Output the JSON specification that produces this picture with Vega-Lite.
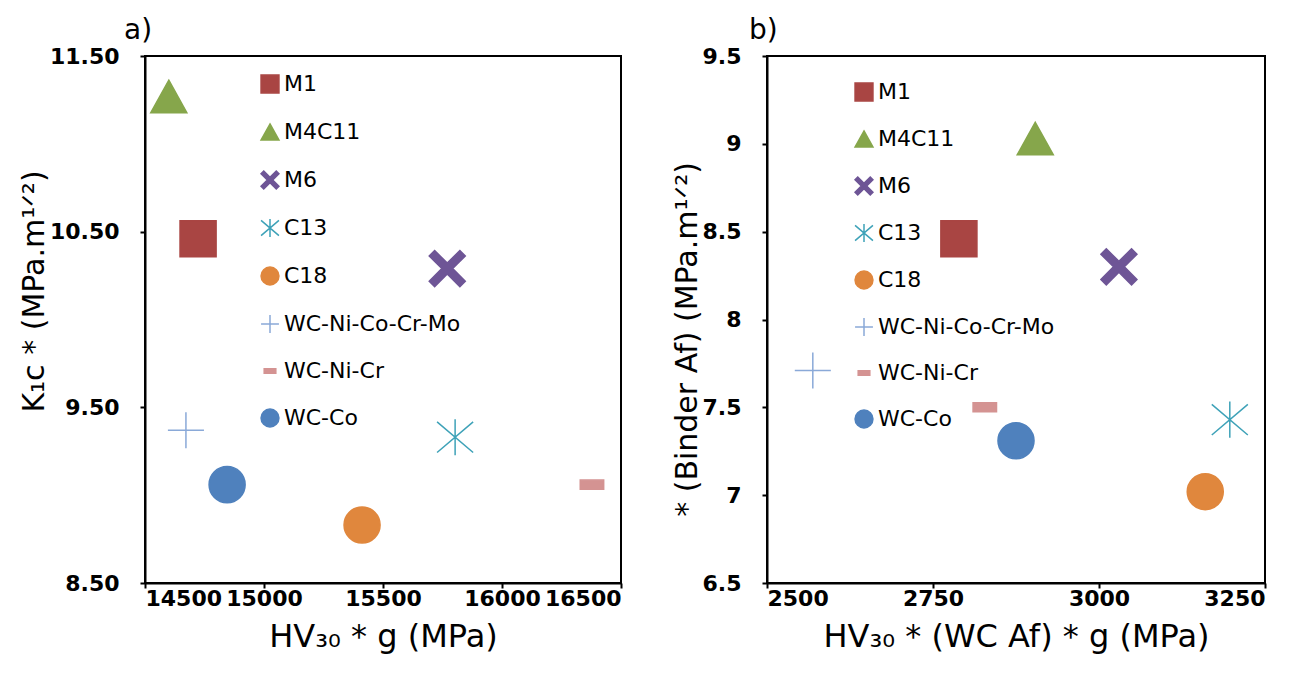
{
  "$schema": "https://vega.github.io/schema/vega-lite/v6.json",
  "background": "white",
  "padding": {"left": 18, "top": 16, "right": 6, "bottom": 5},
  "datasets": {
    "a": [
      {"series": "M1", "hv": 14723, "k": 10.46},
      {"series": "M4C11", "hv": 14600, "k": 11.27},
      {"series": "M6", "hv": 15770, "k": 10.29},
      {"series": "C13", "hv": 15803, "k": 9.33},
      {"series": "C18", "hv": 15412, "k": 8.83},
      {"series": "WC-Ni-Co-Cr-Mo", "hv": 14672, "k": 9.37},
      {"series": "WC-Ni-Cr", "hv": 16378, "k": 9.06},
      {"series": "WC-Co", "hv": 14845, "k": 9.06}
    ],
    "b": [
      {"series": "M1", "hv": 2789, "k": 8.46},
      {"series": "M4C11", "hv": 2904, "k": 9.03},
      {"series": "M6", "hv": 3030, "k": 8.30},
      {"series": "C13", "hv": 3197, "k": 7.43},
      {"series": "C18", "hv": 3160, "k": 7.02},
      {"series": "WC-Ni-Co-Cr-Mo", "hv": 2569, "k": 7.71},
      {"series": "WC-Ni-Cr", "hv": 2828, "k": 7.50},
      {"series": "WC-Co", "hv": 2875, "k": 7.31}
    ]
  },
  "config": {
    "font": "DejaVu Sans",
    "view": {"stroke": "black", "strokeWidth": 2},
    "axis": {
      "grid": false,
      "labelFont": "DejaVu Sans",
      "labelFontWeight": "bold",
      "labelFontSize": 22,
      "labelColor": "black",
      "titleFont": "DejaVu Sans",
      "titleFontWeight": "normal",
      "titleColor": "black",
      "domainColor": "black",
      "domainWidth": 2,
      "tickColor": "black",
      "tickWidth": 2,
      "tickSize": 5
    },
    "axisX": {"labelPadding": 0, "titlePadding": 12, "titleFontSize": 32},
    "axisY": {"labelPadding": 21, "titlePadding": 0, "titleFontSize": 30},
    "legend": {
      "labelFont": "DejaVu Sans",
      "labelFontSize": 22,
      "labelColor": "black",
      "symbolSize": 320,
      "symbolStrokeWidth": 1.5,
      "padding": 0,
      "labelOffset": 3,
      "labelLimit": 400
    }
  },
  "spacing": 48,
  "resolve": {
    "scale": {"fill": "independent", "stroke": "independent", "shape": "independent"},
    "legend": {"fill": "independent", "stroke": "independent", "shape": "independent"}
  },
  "hconcat": [
    {
      "width": 476,
      "height": 527,
      "title": {"text": "a)", "anchor": "start", "frame": "group", "dx": -21, "fontSize": 28, "font": "DejaVu Sans", "fontWeight": "normal", "offset": 0, "color": "black"},
      "data": {"name": "a"},
      "mark": {"type": "point", "filled": true, "strokeWidth": 1.5, "opacity": 1, "size": 1300},
      "encoding": {
        "x": {"field": "hv", "type": "quantitative", "scale": {"domain": [14500, 16500], "nice": false, "zero": false}, "axis": {"values": [14500, 15000, 15500, 16000, 16500], "format": "d", "title": "HV₃₀ * g (MPa)"}},
        "y": {"field": "k", "type": "quantitative", "scale": {"domain": [8.5, 11.5], "nice": false, "zero": false}, "axis": {"values": [8.5, 9.5, 10.5, 11.5], "format": ".2f", "title": "K₁c * (MPa.m¹ᐟ²)", "titleY": 235}},
        "fill": {"field": "series", "type": "nominal",
          "scale": {"domain": ["M1", "M4C11", "M6", "C13", "C18", "WC-Ni-Co-Cr-Mo", "WC-Ni-Cr", "WC-Co"], "range": ["#a94543", "#86a64b", "#6e5596", "#3ea2b8", "#e0873d", "#8aa9d8", "#d49392", "#4f81bd"]},
          "legend": {"orient": "none", "legendX": 114, "legendY": 17, "title": null, "rowPadding": 24}},
        "stroke": {"field": "series", "type": "nominal",
          "scale": {"domain": ["M1", "M4C11", "M6", "C13", "C18", "WC-Ni-Co-Cr-Mo", "WC-Ni-Cr", "WC-Co"], "range": ["#a94543", "#86a64b", "#6e5596", "#3ea2b8", "#e0873d", "#8aa9d8", "#d49392", "#4f81bd"]},
          "legend": {"orient": "none", "legendX": 114, "legendY": 17, "title": null, "rowPadding": 24}},
        "shape": {"field": "series", "type": "nominal",
          "scale": {"domain": ["M1", "M4C11", "M6", "C13", "C18", "WC-Ni-Co-Cr-Mo", "WC-Ni-Cr", "WC-Co"], "range": ["square", "M0,-0.9L1,0.9L-1,0.9Z", "M-0.7,-1L0,-0.3L0.7,-1L1,-0.7L0.3,0L1,0.7L0.7,1L0,0.3L-0.7,1L-1,0.7L-0.3,0L-1,-0.7Z", "M0,-1V1M-1,-0.85L1,0.85M-1,0.85L1,-0.85", "circle", "M-1,0H1M0,-1V1", "M-0.65,-0.25H0.65V0.25H-0.65Z", "circle"]},
          "legend": {"orient": "none", "legendX": 114, "legendY": 17, "title": null, "rowPadding": 24}}
      }
    },
    {
      "width": 498,
      "height": 527,
      "title": {"text": "b)", "anchor": "start", "frame": "group", "dx": -18, "fontSize": 28, "font": "DejaVu Sans", "fontWeight": "normal", "offset": 0, "color": "black"},
      "data": {"name": "b"},
      "mark": {"type": "point", "filled": true, "strokeWidth": 1.5, "opacity": 1, "size": 1300},
      "encoding": {
        "x": {"field": "hv", "type": "quantitative", "scale": {"domain": [2500, 3250], "nice": false, "zero": false}, "axis": {"values": [2500, 2750, 3000, 3250], "format": "d", "title": "HV₃₀ * (WC Af) * g (MPa)"}},
        "y": {"field": "k", "type": "quantitative", "scale": {"domain": [6.5, 9.5], "nice": false, "zero": false}, "axis": {"values": [6.5, 7, 7.5, 8, 8.5, 9, 9.5], "format": "~g", "title": "* (Binder Af) (MPa.m¹ᐟ²)", "titleY": 283}},
        "fill": {"field": "series", "type": "nominal",
          "scale": {"domain": ["M1", "M4C11", "M6", "C13", "C18", "WC-Ni-Co-Cr-Mo", "WC-Ni-Cr", "WC-Co"], "range": ["#a94543", "#86a64b", "#6e5596", "#3ea2b8", "#e0873d", "#8aa9d8", "#d49392", "#4f81bd"]},
          "legend": {"orient": "none", "legendX": 86, "legendY": 25, "title": null, "rowPadding": 23}},
        "stroke": {"field": "series", "type": "nominal",
          "scale": {"domain": ["M1", "M4C11", "M6", "C13", "C18", "WC-Ni-Co-Cr-Mo", "WC-Ni-Cr", "WC-Co"], "range": ["#a94543", "#86a64b", "#6e5596", "#3ea2b8", "#e0873d", "#8aa9d8", "#d49392", "#4f81bd"]},
          "legend": {"orient": "none", "legendX": 86, "legendY": 25, "title": null, "rowPadding": 23}},
        "shape": {"field": "series", "type": "nominal",
          "scale": {"domain": ["M1", "M4C11", "M6", "C13", "C18", "WC-Ni-Co-Cr-Mo", "WC-Ni-Cr", "WC-Co"], "range": ["square", "M0,-0.9L1,0.9L-1,0.9Z", "M-0.7,-1L0,-0.3L0.7,-1L1,-0.7L0.3,0L1,0.7L0.7,1L0,0.3L-0.7,1L-1,0.7L-0.3,0L-1,-0.7Z", "M0,-1V1M-1,-0.85L1,0.85M-1,0.85L1,-0.85", "circle", "M-1,0H1M0,-1V1", "M-0.65,-0.25H0.65V0.25H-0.65Z", "circle"]},
          "legend": {"orient": "none", "legendX": 86, "legendY": 25, "title": null, "rowPadding": 23}}
      }
    }
  ]
}
